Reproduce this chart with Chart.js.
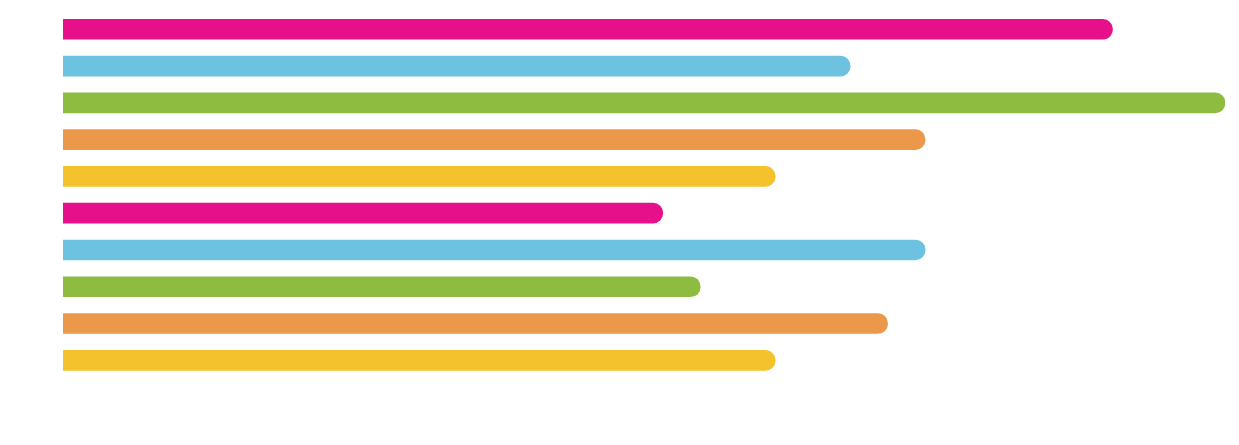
<!DOCTYPE html>
<html>
<head>
<meta charset="utf-8">
<script src="https://cdn.jsdelivr.net/npm/chart.js@4/dist/chart.umd.min.js"></script>
<style>
html,body{margin:0;padding:0;background:#fff;}
#wrap{width:1239px;height:445px;position:relative;}
</style>
</head>
<body>
<div id="wrap"><canvas id="c" width="1239" height="445"></canvas></div>
<script>
const categories = ["1","2","3","4","5","6","7","8","9","10"];
const values = [140, 105, 155, 115, 95, 80, 115, 85, 110, 95];
const barColors = ["#E5108A","#6CC2E0","#8EBC41","#EC984B","#F3C22C","#E5108A","#6CC2E0","#8EBC41","#EC984B","#F3C22C"];
const axisMax = 155;

new Chart(document.getElementById('c'), {
  type: 'bar',
  data: {
    labels: categories,
    datasets: [{
      data: values,
      backgroundColor: barColors,
      borderWidth: 0,
      borderRadius: 10,
      borderSkipped: 'start',
      barThickness: 20
    }]
  },
  options: {
    indexAxis: 'y',
    responsive: false,
    animation: false,
    layout: { padding: { left: 63, right: 14, top: 10.9, bottom: 66.3 } },
    plugins: { legend: { display: false }, tooltip: { enabled: false } },
    scales: {
      x: { display: false, min: 0, max: axisMax },
      y: { display: false, offset: true }
    }
  }
});
</script>
</body>
</html>
